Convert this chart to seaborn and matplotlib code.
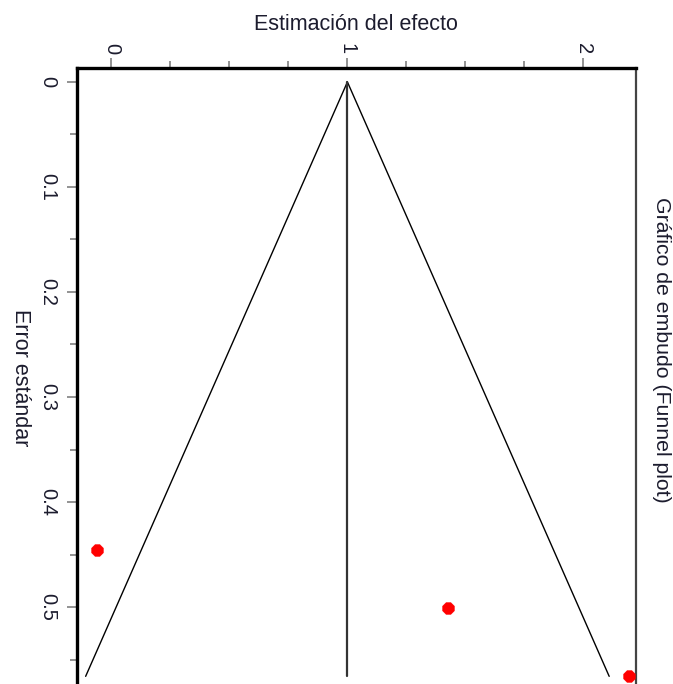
import numpy as np
import pandas as pd
import matplotlib
matplotlib.use("Agg")
import matplotlib.pyplot as plt
from matplotlib.ticker import MultipleLocator
import seaborn as sns

# ---- data ----
effect_estimates = [-0.06, 1.427, 2.195]
standard_errors = [0.446, 0.501, 0.566]
pooled_effect = 1.0
z_value = 1.96
x_tick_values = [0, 1, 2]
x_tick_labels = ["0", "1", "2"]
y_tick_values = [0, 0.1, 0.2, 0.3, 0.4, 0.5]
y_tick_labels = ["0", "0.1", "0.2", "0.3", "0.4", "0.5"]

sns.set_style("white")
plt.rcParams["font.family"] = ["Liberation Sans", "DejaVu Sans"]

points = pd.DataFrame({"effect": effect_estimates, "se": standard_errors})
se_max = max(standard_errors)
funnel = pd.DataFrame({
    "se": [0, se_max, 0, se_max],
    "effect": [pooled_effect, pooled_effect - z_value * se_max,
               pooled_effect, pooled_effect + z_value * se_max],
    "side": ["left", "left", "right", "right"],
})
center = pd.DataFrame({"se": [0, se_max], "effect": [pooled_effect, pooled_effect]})

W, H = 673, 684
fig = plt.figure(figsize=(W / 100, H / 100), dpi=100)
ax = fig.add_axes([77 / W, 0, (636 - 77) / W, (684 - 68) / H])

sns.lineplot(data=funnel, x="effect", y="se", units="side", estimator=None,
             sort=False, color="black", lw=1.0, ax=ax, legend=False)
sns.lineplot(data=center, x="effect", y="se", estimator=None, sort=False,
             color="#333333", lw=1.6, ax=ax, legend=False)
sns.scatterplot(data=points, x="effect", y="se", color="red", marker="8",
                s=80, edgecolor="red", linewidth=0.5, ax=ax, zorder=5,
                clip_on=False, legend=False)

ax.set_xlim(-0.146, 2.223)
ax.set_ylim(0.5733, -0.0133)

ax.xaxis.tick_top()
ax.set_xticks(x_tick_values)
ax.set_xticklabels(x_tick_labels, rotation=-90)
ax.xaxis.set_minor_locator(MultipleLocator(0.25))
ax.set_yticks(y_tick_values)
ax.set_yticklabels(y_tick_labels, rotation=-90, va="center")
ax.yaxis.set_minor_locator(MultipleLocator(0.05))

tick_color = "#8a8a8a"
ax.tick_params(axis="both", which="major", length=7, width=1.3,
               color=tick_color, labelsize=14.5, labelcolor="#1c1c2e",
               direction="out")
ax.tick_params(axis="x", which="major", pad=3)
ax.tick_params(axis="y", which="major", pad=7)
ax.tick_params(axis="both", which="minor", length=5, width=1.3,
               color=tick_color, direction="out")
ax.tick_params(axis="x", which="both", top=True, bottom=False)
ax.tick_params(axis="y", which="both", left=True, right=False)

ax.set_xlabel("")
ax.set_ylabel("")

ax.spines["left"].set_linewidth(2.4)
ax.spines["left"].set_color("black")
ax.spines["top"].set_linewidth(2.4)
ax.spines["top"].set_color("black")
ax.spines["right"].set_linewidth(1.6)
ax.spines["right"].set_color("#444444")
ax.spines["bottom"].set_visible(False)

fig.text(356 / W, 1 - 24 / H, "Estimación del efecto", ha="center", va="center",
         fontsize=15.5, color="#1c1c2e")
fig.text(20 / W, 1 - 378 / H, "Error estándar", ha="center", va="center",
         rotation=-90, fontsize=15.5, color="#1c1c2e")
fig.text(661 / W, 1 - 350 / H, "Gráfico de embudo (Funnel plot)", ha="center",
         va="center", rotation=-90, fontsize=15.3, color="#1c1c2e")

fig.savefig("out.png", dpi=100)
